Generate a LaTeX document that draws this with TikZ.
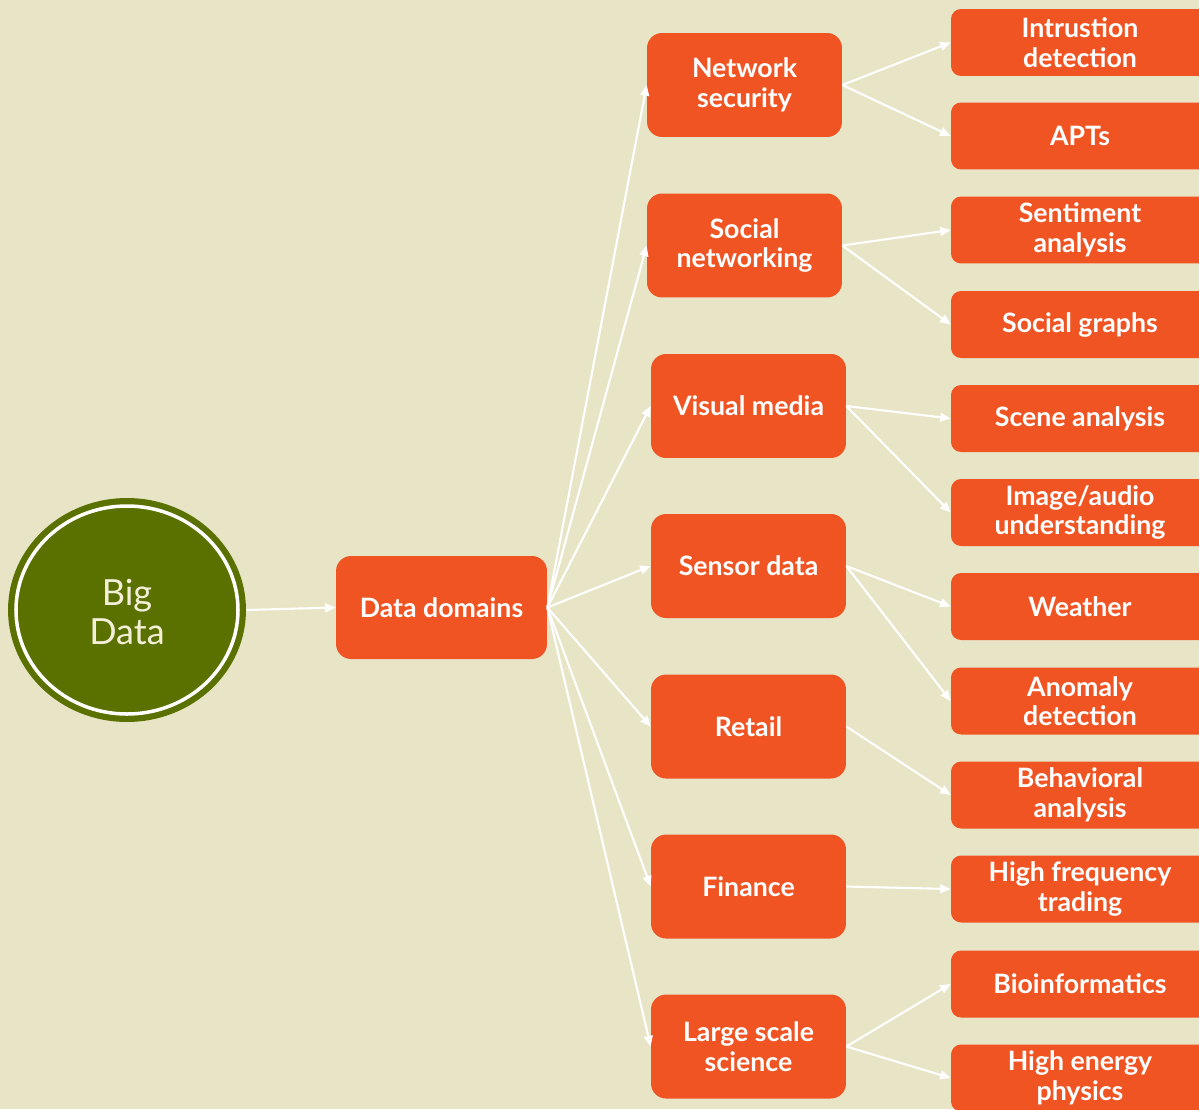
\documentclass[tikz,border=0pt]{standalone}
\usepackage{fontspec}
\setmainfont{Lato}
\usepackage{tikz}
\usetikzlibrary{arrows.meta,shapes.geometric}
\definecolor{bgbeige}{HTML}{E8E4C6}
\definecolor{boxorange}{HTML}{F05423}
\definecolor{bdgreen}{HTML}{5A7100}
\definecolor{bdcream}{HTML}{F4EFD9}
\tikzset{areabox/.style={rectangle, rounded corners=0.3cm, fill=boxorange, text=white, inner sep=0pt, minimum width=3.9cm, minimum height=2.08cm, align=center, font=\bfseries\fontsize{15.2}{16.8}\selectfont},
	topicbox/.style={areabox, rounded corners=0.2cm, minimum width=5.16cm, minimum height=1.34cm},
	fanarrow/.style={draw=white, line width=1.2pt, -{Triangle[length=6pt,width=5pt]}}}

\begin{document}
\begin{tikzpicture}[x=0.02cm,y=-0.02cm]
	\fill[bgbeige] (0,0) rectangle (1199,1109);
	\useasboundingbox (0,0) rectangle (1199,1109);
	\clip (0,0) rectangle (1199,1109);
	% big data circle
	\node[ellipse, fill=bdgreen, minimum width=4.76cm, minimum height=4.48cm, inner sep=0pt] (bigdata) at (127,610) {};
	\draw[white, line width=2pt] (bigdata.center) ellipse [x radius=111, y radius=104];
	\node[text=bdcream, align=center, font=\fontsize{20.5}{22.7}\selectfont] (bdlabel) at (127,612) {Big\\Data};
	\node[areabox, minimum width=4.22cm, minimum height=2.06cm] (domains) at (441.5,607.5) {Data domains};
	\draw[fanarrow] (bigdata.east) -- (domains.west);
	% data domains
	\node[areabox] (netsec) at (744.5,85) {Network\\security};
	\node[areabox] (social) at (744.5,245.5) {Social\\networking};
	\node[areabox] (visual) at (748.5,406) {Visual media};
	\node[areabox] (sensor) at (748.5,566) {Sensor data};
	\node[areabox] (retail) at (748.5,726.5) {Retail};
	\node[areabox] (finance) at (748.5,886.5) {Finance};
	\node[areabox] (science) at (748.5,1046.5) {Large scale\\science};
	% applications
	\node[topicbox] (intrusion) at (1080,42.5) {Intrustion\\detection};
	\node[topicbox] (apts) at (1080,136) {APTs};
	\node[topicbox] (sentiment) at (1080,230) {Sentiment\\analysis};
	\node[topicbox] (graphs) at (1080,324.5) {Social graphs};
	\node[topicbox] (scene) at (1080,418.5) {Scene analysis};
	\node[topicbox] (image) at (1080,512.5) {Image/audio\\understanding};
	\node[topicbox] (weather) at (1080,606.5) {Weather};
	\node[topicbox] (anomaly) at (1080,701) {Anomaly\\detection};
	\node[topicbox] (behavior) at (1080,795) {Behavioral\\analysis};
	\node[topicbox] (hft) at (1080,889) {High frequency\\trading};
	\node[topicbox] (bioinf) at (1080,984) {Bioinformatics};
	\node[topicbox] (hep) at (1080,1078) {High energy\\physics};
	\foreach \m in {netsec,social,visual,sensor,retail,finance,science}
		\draw[fanarrow] (domains.east) -- (\m.west);
	\foreach \m/\t in {netsec/intrusion,netsec/apts,social/sentiment,social/graphs,visual/scene,visual/image,sensor/weather,sensor/anomaly,retail/behavior,finance/hft,science/bioinf,science/hep}
		\draw[fanarrow] (\m.east) -- (\t.west);
\end{tikzpicture}
\end{document}
